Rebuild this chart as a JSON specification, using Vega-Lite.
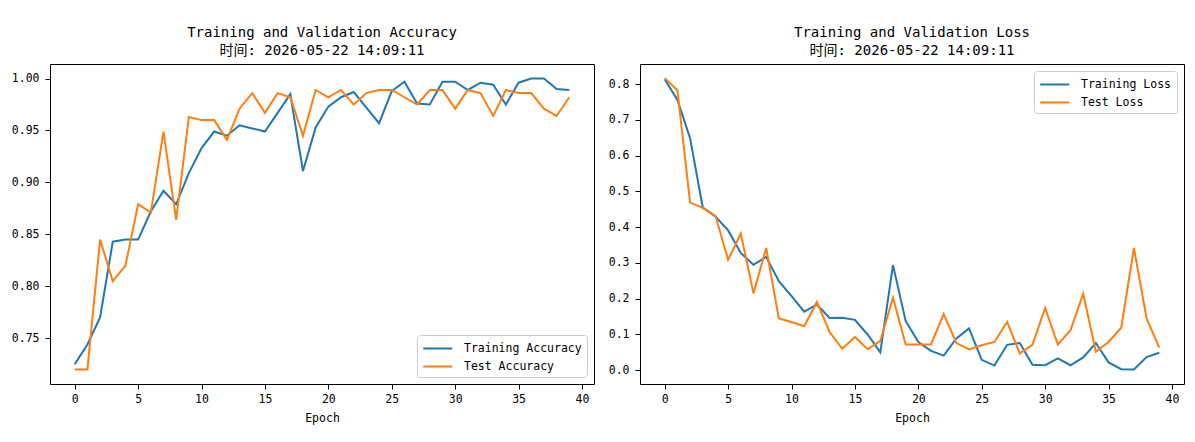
{
  "$schema": "https://vega.github.io/schema/vega-lite/v6.json",
  "background": "white",
  "padding": {"left": 10, "top": 25, "right": 5, "bottom": 5},
  "datasets": {
    "history": [
      {"epoch": 0, "Training Accuracy": 0.725, "Test Accuracy": 0.720, "Training Loss": 0.814, "Test Loss": 0.817},
      {"epoch": 1, "Training Accuracy": 0.744, "Test Accuracy": 0.720, "Training Loss": 0.756, "Test Loss": 0.783},
      {"epoch": 2, "Training Accuracy": 0.770, "Test Accuracy": 0.845, "Training Loss": 0.649, "Test Loss": 0.469},
      {"epoch": 3, "Training Accuracy": 0.843, "Test Accuracy": 0.805, "Training Loss": 0.455, "Test Loss": 0.454},
      {"epoch": 4, "Training Accuracy": 0.845, "Test Accuracy": 0.820, "Training Loss": 0.430, "Test Loss": 0.432},
      {"epoch": 5, "Training Accuracy": 0.845, "Test Accuracy": 0.879, "Training Loss": 0.391, "Test Loss": 0.309},
      {"epoch": 6, "Training Accuracy": 0.872, "Test Accuracy": 0.871, "Training Loss": 0.328, "Test Loss": 0.382},
      {"epoch": 7, "Training Accuracy": 0.892, "Test Accuracy": 0.949, "Training Loss": 0.295, "Test Loss": 0.215},
      {"epoch": 8, "Training Accuracy": 0.879, "Test Accuracy": 0.864, "Training Loss": 0.317, "Test Loss": 0.342},
      {"epoch": 9, "Training Accuracy": 0.909, "Test Accuracy": 0.963, "Training Loss": 0.249, "Test Loss": 0.145},
      {"epoch": 10, "Training Accuracy": 0.933, "Test Accuracy": 0.960, "Training Loss": 0.207, "Test Loss": 0.135},
      {"epoch": 11, "Training Accuracy": 0.949, "Test Accuracy": 0.960, "Training Loss": 0.164, "Test Loss": 0.123},
      {"epoch": 12, "Training Accuracy": 0.945, "Test Accuracy": 0.941, "Training Loss": 0.184, "Test Loss": 0.191},
      {"epoch": 13, "Training Accuracy": 0.955, "Test Accuracy": 0.971, "Training Loss": 0.146, "Test Loss": 0.107},
      {"epoch": 14, "Training Accuracy": 0.952, "Test Accuracy": 0.986, "Training Loss": 0.147, "Test Loss": 0.060},
      {"epoch": 15, "Training Accuracy": 0.949, "Test Accuracy": 0.967, "Training Loss": 0.141, "Test Loss": 0.093},
      {"epoch": 16, "Training Accuracy": 0.967, "Test Accuracy": 0.986, "Training Loss": 0.100, "Test Loss": 0.059},
      {"epoch": 17, "Training Accuracy": 0.985, "Test Accuracy": 0.982, "Training Loss": 0.050, "Test Loss": 0.082},
      {"epoch": 18, "Training Accuracy": 0.911, "Test Accuracy": 0.945, "Training Loss": 0.294, "Test Loss": 0.203},
      {"epoch": 19, "Training Accuracy": 0.953, "Test Accuracy": 0.989, "Training Loss": 0.138, "Test Loss": 0.072},
      {"epoch": 20, "Training Accuracy": 0.973, "Test Accuracy": 0.982, "Training Loss": 0.079, "Test Loss": 0.072},
      {"epoch": 21, "Training Accuracy": 0.982, "Test Accuracy": 0.989, "Training Loss": 0.054, "Test Loss": 0.072},
      {"epoch": 22, "Training Accuracy": 0.987, "Test Accuracy": 0.975, "Training Loss": 0.041, "Test Loss": 0.157},
      {"epoch": 23, "Training Accuracy": 0.972, "Test Accuracy": 0.986, "Training Loss": 0.089, "Test Loss": 0.076},
      {"epoch": 24, "Training Accuracy": 0.957, "Test Accuracy": 0.989, "Training Loss": 0.117, "Test Loss": 0.058},
      {"epoch": 25, "Training Accuracy": 0.988, "Test Accuracy": 0.989, "Training Loss": 0.029, "Test Loss": 0.070},
      {"epoch": 26, "Training Accuracy": 0.997, "Test Accuracy": 0.982, "Training Loss": 0.013, "Test Loss": 0.079},
      {"epoch": 27, "Training Accuracy": 0.976, "Test Accuracy": 0.975, "Training Loss": 0.071, "Test Loss": 0.135},
      {"epoch": 28, "Training Accuracy": 0.975, "Test Accuracy": 0.989, "Training Loss": 0.076, "Test Loss": 0.047},
      {"epoch": 29, "Training Accuracy": 0.997, "Test Accuracy": 0.989, "Training Loss": 0.015, "Test Loss": 0.071},
      {"epoch": 30, "Training Accuracy": 0.997, "Test Accuracy": 0.971, "Training Loss": 0.014, "Test Loss": 0.174},
      {"epoch": 31, "Training Accuracy": 0.989, "Test Accuracy": 0.989, "Training Loss": 0.033, "Test Loss": 0.072},
      {"epoch": 32, "Training Accuracy": 0.996, "Test Accuracy": 0.986, "Training Loss": 0.014, "Test Loss": 0.112},
      {"epoch": 33, "Training Accuracy": 0.994, "Test Accuracy": 0.964, "Training Loss": 0.036, "Test Loss": 0.214},
      {"epoch": 34, "Training Accuracy": 0.975, "Test Accuracy": 0.989, "Training Loss": 0.076, "Test Loss": 0.052},
      {"epoch": 35, "Training Accuracy": 0.996, "Test Accuracy": 0.986, "Training Loss": 0.022, "Test Loss": 0.079},
      {"epoch": 36, "Training Accuracy": 1.000, "Test Accuracy": 0.986, "Training Loss": 0.003, "Test Loss": 0.119},
      {"epoch": 37, "Training Accuracy": 1.000, "Test Accuracy": 0.971, "Training Loss": 0.002, "Test Loss": 0.342},
      {"epoch": 38, "Training Accuracy": 0.990, "Test Accuracy": 0.964, "Training Loss": 0.037, "Test Loss": 0.145},
      {"epoch": 39, "Training Accuracy": 0.989, "Test Accuracy": 0.982, "Training Loss": 0.049, "Test Loss": 0.063}
    ]
  },
  "data": {"name": "history"},
  "spacing": 46,
  "bounds": "flush",
  "resolve": {"scale": {"color": "independent", "x": "independent", "y": "independent"}, "legend": {"color": "independent"}},
  "hconcat": [
    {
      "width": 544,
      "height": 320,
      "title": {"text": ["Training and Validation Accuracy", "时间: 2026-05-22 14:09:11"]},
      "transform": [{"fold": ["Training Accuracy", "Test Accuracy"], "as": ["series", "value"]}],
      "mark": {"type": "line", "strokeWidth": 2},
      "encoding": {
        "x": {
          "field": "epoch", "type": "quantitative", "title": "Epoch",
          "scale": {"domain": [-1.95, 40.95], "nice": false, "zero": false},
          "axis": {"values": [0, 5, 10, 15, 20, 25, 30, 35, 40]}
        },
        "y": {
          "field": "value", "type": "quantitative", "title": null,
          "scale": {"domain": [0.706, 1.014], "nice": false, "zero": false},
          "axis": {"values": [0.75, 0.8, 0.85, 0.9, 0.95, 1.0], "format": ".2f"}
        },
        "color": {
          "field": "series", "type": "nominal",
          "scale": {"domain": ["Training Accuracy", "Test Accuracy"], "range": ["#1f77b4", "#ff7f0e"]},
          "legend": {"title": null, "orient": "bottom-right", "offset": 7}
        }
      }
    },
    {
      "width": 544,
      "height": 320,
      "title": {"text": ["Training and Validation Loss", "时间: 2026-05-22 14:09:11"]},
      "transform": [{"fold": ["Training Loss", "Test Loss"], "as": ["series", "value"]}],
      "mark": {"type": "line", "strokeWidth": 2},
      "encoding": {
        "x": {
          "field": "epoch", "type": "quantitative", "title": "Epoch",
          "scale": {"domain": [-1.95, 40.95], "nice": false, "zero": false},
          "axis": {"values": [0, 5, 10, 15, 20, 25, 30, 35, 40]}
        },
        "y": {
          "field": "value", "type": "quantitative", "title": null,
          "scale": {"domain": [-0.0385, 0.8565], "nice": false, "zero": false},
          "axis": {"values": [0, 0.1, 0.2, 0.3, 0.4, 0.5, 0.6, 0.7, 0.8], "format": ".1f"}
        },
        "color": {
          "field": "series", "type": "nominal",
          "scale": {"domain": ["Training Loss", "Test Loss"], "range": ["#1f77b4", "#ff7f0e"]},
          "legend": {"title": null, "orient": "top-right", "offset": 7}
        }
      }
    }
  ],
  "config": {
    "font": "DejaVu Sans Mono, Noto Sans CJK SC",
    "view": {"stroke": "black", "strokeWidth": 1},
    "title": {"fontSize": 14, "fontWeight": "normal", "color": "black", "lineHeight": 18.5, "offset": 6, "anchor": "middle"},
    "axis": {
      "domain": false, "grid": false,
      "tickColor": "black", "tickSize": 5, "tickWidth": 1,
      "labelFontSize": 11.5, "labelColor": "black",
      "titleFontSize": 11.5, "titleFontWeight": "normal", "titleColor": "black"
    },
    "axisX": {"labelPadding": 4, "titlePadding": 8},
    "axisY": {"labelPadding": 6},
    "legend": {
      "fillColor": "white", "strokeColor": "#cccccc", "cornerRadius": 3, "padding": 5,
      "symbolType": "M-1,0H3", "symbolSize": 210, "symbolStrokeWidth": 2,
      "labelFontSize": 11.5, "labelColor": "black", "labelOffset": 25, "rowPadding": 4
    }
  }
}
